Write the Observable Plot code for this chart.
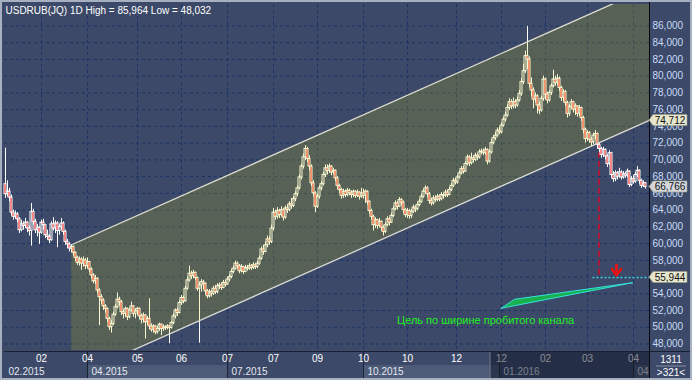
<!DOCTYPE html>
<html><head><meta charset="utf-8">
<script src="https://cdn.jsdelivr.net/npm/d3@7"></script>
<script src="https://cdn.jsdelivr.net/npm/@observablehq/plot@0.6"></script>
<style>
html,body{margin:0;padding:0;background:#3c4968;}
#wrap{position:relative;width:692px;height:380px;overflow:hidden;}
#wrap svg{position:absolute;left:0;top:0;}
#frame{position:absolute;left:0;top:0;width:692px;height:380px;box-sizing:border-box;border:2px solid #a7b0c0;pointer-events:none;}
</style></head><body><div id="wrap"><div id="frame"></div></div>
<script>
// ---------------- data ----------------
const title = "USDRUB(JQ) 1D High = 85,964 Low = 48,032";
const firstOpen = 67.1;
const closes = [
65.9,66.2,65.5,63.7,63.2,63.5,62.9,61.6,62.3,62.1,
62.5,61.8,61.5,63.8,62.6,61.6,61.9,61.3,62.5,62.2,
61.0,60.8,60.4,62.3,61.8,62.4,61.5,62.0,62.4,61.4,
60.2,59.9,59.4,59.6,58.9,58.3,57.7,58.1,57.6,58.0,
57.3,57.8,56.9,56.2,55.5,55.8,54.4,53.6,53.2,52.5,
52.2,51.0,50.0,50.4,51.5,52.4,53.3,53.0,51.8,51.6,
52.2,51.2,52.0,52.5,51.6,51.9,52.2,51.3,50.9,51.4,
50.6,51.0,50.1,49.7,50.1,49.4,49.8,50.3,49.8,50.0,
49.9,50.1,49.9,50.5,51.3,52.0,51.7,52.9,53.5,53.1,
54.6,55.6,56.4,56.1,56.5,55.9,54.6,55.0,55.4,55.2,
54.3,53.7,54.2,54.0,54.6,54.2,54.9,55.0,54.7,55.3,
55.1,55.7,56.0,56.6,57.0,57.6,57.3,56.7,57.2,56.6,
57.1,57.0,57.3,57.1,57.4,57.2,57.6,58.2,59.3,59.0,
59.8,60.5,60.2,61.8,63.7,63.2,63.9,63.4,64.0,63.1,
64.2,64.0,64.7,64.5,65.3,65.9,66.6,67.9,69.2,70.3,
71.3,70.1,69.2,67.2,66.0,64.4,65.6,66.6,67.1,68.2,
69.0,68.7,69.2,68.5,68.7,67.8,66.9,66.4,65.7,66.2,
65.8,66.3,66.0,65.8,66.2,65.7,66.1,65.6,66.0,65.7,
66.2,65.0,63.9,63.2,62.2,62.8,62.1,62.6,61.9,61.4,
62.2,62.9,62.5,63.3,64.1,64.8,64.4,65.2,64.9,64.0,
63.4,63.9,63.3,63.8,64.3,64.1,64.6,65.0,65.6,66.2,
66.6,65.9,65.1,64.8,65.4,65.2,65.6,65.3,65.8,65.7,
66.1,65.8,66.4,66.9,67.5,67.3,67.9,68.4,68.9,68.6,
69.5,70.3,69.6,70.2,70.0,70.5,70.3,70.9,71.0,70.8,
71.2,69.8,70.9,72.0,72.6,72.9,73.5,73.3,74.1,74.8,
75.3,76.2,76.9,76.4,76.9,76.5,77.1,77.9,79.3,80.6,
82.4,82.0,79.1,78.3,77.2,77.6,76.5,75.9,77.3,79.6,
77.8,77.1,78.0,78.8,79.6,79.2,79.7,78.6,77.4,78.1,
76.8,75.5,76.3,76.9,76.0,76.4,75.5,76.2,75.0,73.6,
72.5,73.2,72.4,72.1,72.9,73.1,71.8,71.3,70.6,71.2,
70.4,69.5,70.8,68.2,67.7,68.4,68.0,68.5,67.9,68.3,
68.1,68.6,67.0,67.7,67.4,68.2,68.7,67.5,66.9,67.2,
66.766];
const highs = [
71.4,67.5,66.6,65.8,64.0,63.9,63.7,63.1,62.8,62.6,
63.0,62.6,62.1,64.8,64.1,62.9,62.3,62.0,62.8,62.9,
62.3,61.6,61.0,62.6,63.1,62.7,62.6,62.3,63.0,62.6,
61.6,60.5,60.1,59.9,59.7,59.0,58.5,58.4,58.3,58.4,
58.2,58.3,57.9,57.1,56.4,56.2,55.9,54.6,53.9,53.4,
52.7,52.3,51.2,50.8,51.8,52.7,54.1,53.6,53.2,52.1,
52.4,52.3,52.3,53.0,52.6,52.2,52.4,52.3,51.6,51.7,
51.5,51.3,53.4,50.4,50.3,50.2,50.1,50.5,50.4,50.3,
50.2,50.3,50.2,50.7,51.6,52.2,52.3,53.2,53.8,53.7,
54.9,56.0,57.3,56.7,56.8,56.6,56.0,55.4,55.7,55.6,
55.3,54.5,54.5,54.4,54.9,55.0,55.2,55.3,55.3,55.6,
55.6,56.0,56.3,56.9,57.3,57.9,57.8,57.5,57.5,57.3,
57.4,57.4,57.6,57.5,57.7,57.6,57.9,58.5,59.6,59.8,
60.2,60.9,60.8,62.2,64.2,64.0,64.3,64.1,64.4,64.2,
64.5,64.6,65.0,65.4,65.6,66.2,66.9,68.2,69.5,70.7,
71.7,71.5,70.5,69.4,67.5,66.2,65.9,66.9,67.4,68.5,
69.4,69.4,69.5,69.3,69.0,68.8,68.0,67.1,66.6,66.5,
66.4,66.6,66.5,66.3,66.4,66.3,66.4,66.2,66.6,66.5,
66.4,66.3,65.1,64.1,63.4,63.1,62.9,63.0,62.7,62.1,
62.5,63.2,63.1,63.6,64.4,65.1,65.0,65.5,65.4,65.1,
64.2,64.2,64.1,64.1,64.6,64.5,64.9,65.3,65.9,66.5,
66.9,66.8,66.1,65.4,65.7,65.7,65.9,65.8,66.1,66.0,
66.4,66.4,66.7,67.2,67.8,67.8,68.2,68.7,69.2,69.2,
69.8,70.6,70.5,70.8,70.5,70.8,70.7,71.2,71.3,71.3,
71.5,71.3,71.2,72.4,72.9,73.3,73.8,73.9,74.4,75.1,
75.7,76.6,77.3,77.2,77.4,77.2,77.5,78.3,79.7,81.4,
83.0,85.964,82.3,79.8,78.6,78.0,77.8,76.9,77.6,80.0,
79.8,78.1,78.3,79.1,80.7,80.0,80.2,79.9,78.8,78.4,
78.3,77.0,76.6,77.2,77.0,76.7,76.5,76.5,76.3,75.2,
73.8,73.5,73.4,72.7,73.2,73.5,73.2,72.0,71.5,71.5,
71.3,70.6,71.1,70.9,68.6,68.7,68.6,69.0,68.7,68.6,
68.5,68.9,68.7,68.0,68.1,68.5,69.2,68.8,67.7,67.5,
67.3];
const lows = [
65.4,65.6,65.0,63.3,62.8,62.9,62.5,61.2,61.4,61.6,
61.8,61.3,60.9,59.7,62.2,61.2,60.8,59.9,61.1,61.6,
60.6,60.4,60.0,60.3,61.5,61.2,59.5,61.0,61.6,61.0,
59.8,59.4,59.0,58.9,58.5,57.9,57.4,57.3,56.8,57.2,
56.9,57.0,56.5,55.8,55.2,55.1,54.0,50.2,52.7,52.0,
51.7,50.6,49.6,49.3,50.2,51.3,52.2,52.5,51.4,51.0,
51.2,50.8,51.0,51.8,51.2,51.0,51.4,50.9,50.4,50.5,
48.6,50.2,49.7,49.4,49.3,49.1,49.2,49.5,49.0,49.5,
49.6,49.7,48.032,49.8,50.3,51.0,51.3,51.6,52.6,52.8,
53.0,54.4,55.4,55.7,55.8,55.6,54.3,48.1,54.2,54.5,
53.9,53.4,53.5,53.6,53.8,53.9,54.0,54.5,54.4,54.6,
54.8,55.0,55.4,55.8,56.4,56.8,56.9,56.4,56.5,56.3,
56.5,56.7,56.8,56.8,56.9,56.9,57.0,57.4,58.0,58.6,
58.9,59.5,59.8,60.0,61.5,62.8,62.9,63.0,63.2,62.7,
62.9,63.6,63.8,64.1,64.3,65.0,65.6,66.4,67.6,68.9,
69.9,69.7,68.7,66.8,65.6,63.7,64.2,65.3,66.3,66.9,
67.9,68.2,68.4,68.1,68.2,67.4,66.5,66.0,65.3,65.4,
65.5,65.6,65.7,65.4,65.5,65.4,65.5,65.2,65.4,65.3,
64.8,64.6,63.5,62.8,61.5,61.8,61.7,61.9,61.5,60.9,
61.2,62.0,62.1,62.4,63.1,63.9,64.0,64.3,64.5,63.6,
63.1,63.0,62.9,63.0,63.6,63.7,63.9,64.4,64.8,65.4,
65.9,65.5,64.7,64.5,64.6,64.9,65.0,65.0,65.1,65.3,
65.5,65.5,65.7,66.2,66.7,67.0,67.1,67.7,68.2,68.3,
68.5,69.3,69.2,69.4,69.6,69.8,69.9,70.1,70.6,70.5,
70.6,69.4,69.6,70.7,71.8,72.3,72.7,73.0,73.1,73.9,
74.5,75.1,75.9,76.0,76.1,76.1,76.3,76.9,77.6,79.0,
80.3,80.8,78.6,77.5,76.1,76.8,75.5,75.4,75.7,77.0,
77.2,76.7,76.9,77.7,78.6,78.8,78.9,78.2,77.0,76.9,
76.4,75.0,75.2,76.0,75.6,75.3,75.1,75.2,74.6,73.1,
72.0,72.2,72.0,71.6,71.8,72.4,71.3,70.9,70.2,70.3,
70.0,69.1,69.3,67.8,67.3,67.4,67.6,67.8,67.6,67.7,
67.8,67.9,66.7,66.8,67.1,67.2,67.9,67.1,66.6,66.7,
66.5];

// price axis ticks
const yTicks = [48,50,52,54,56,58,60,62,64,66,68,70,72,74,76,78,80,82,84,86];
const yTickLabels = ["48,000","50,000","52,000","54,000","56,000","58,000","60,000","62,000","64,000","66,000","68,000","70,000","72,000","74,000","76,000","78,000","80,000","82,000","84,000","86,000"];
// time axis (bar index positions)
const xTickBars = [18,41,66,88,111,134,156,179,201,225.5,248,270,291,314];
const xTickLabels = ["02","04","05","06","07","07","09","10","10","12","12","02","03","04"];
const quarterBars = [-0.5,41,111,179,247,314];
const quarterLabels = ["02.2015","04.2015","07.2015","10.2015","01.2016","04."];

// channel
const channelBars = [33.1, 322];
const channelUpper = [59.86, 90.6];
const channelLower = [44.0, 74.74];
// target annotation
const breakBar = 296.75, breakPrice = 72.0;
const targetPrice = 55.944;
const targetLineBars = [293.75, 322];
const arrowBar = 305.5, arrowTop = 57.5, arrowTip = 56.2;
const wedgeBars = [248.1, 254.75, 313.9];
const wedgeLow = [52.21, 52.52, 55.27];
const wedgeHigh = [52.21, 53.28, 55.27];
const noteText = "Цель по ширине пробитого канала";
const noteBar = 195.75, notePrice = 50.81;
// price tags on the axis
const tagValues = [74.712, 66.766, 55.944];
const tagLabels = ["74,712", "66,766", "55,944"];
const tagFills = ["#e6e6cc", "#d2d6da", "#e6e6cc"];
const barsTotal = "1311", barsShown = ">321<";

// ---------------- layout / style ----------------
const W = 692, H = 380;
const mL = 4, mR = 43, mT = 4, mB = 30;
const xDomain = [-0.5, 322];
const yDomain = [47.223, 88.569];
const bg = "#3c4968";
const gridC = "#1b3465";
const red = "#f01010";
const xs = d3.scaleLinear(xDomain, [mL, W - mR]);
const ys = d3.scaleLinear(yDomain, [H - mB, mT]);
const px = p => xs.invert(p), py = p => ys.invert(p);

const candles = closes.map((c, i) => {
  const o = i === 0 ? firstOpen : closes[i - 1];
  return {i, open: o, close: c, high: Math.max(highs[i], o, c), low: Math.min(lows[i], o, c)};
});
const up = candles.filter(d => d.close >= d.open);
const down = candles.filter(d => d.close < d.open);
const channel = channelBars.map((x, k) => ({x, hi: channelUpper[k], lo: channelLower[k]}));
const wedge = wedgeBars.map((x, k) => ({x, lo: wedgeLow[k], hi: wedgeHigh[k]}));
const yLab = new Map(yTicks.map((t, k) => [t, yTickLabels[k]]));
const xLab = new Map(xTickBars.map((t, k) => [t, xTickLabels[k]]));
const quarters = quarterBars.map((x, k) => ({x, x2: k < quarterBars.length - 1 ? quarterBars[k + 1] : xDomain[1], label: quarterLabels[k], light: k % 2 === 1}));

const tagMarks = tagValues.map((v, k) => {
  const pts = [
    {x: px(649), a: v, b: v},
    {x: px(653), a: v - 0.66, b: v + 0.66},
    {x: px(687), a: v - 0.66, b: v + 0.66}
  ];
  return [
    Plot.areaY(pts, {x: "x", y1: "a", y2: "b", fill: tagFills[k], stroke: "#9a9a88", strokeWidth: 0.6}),
    Plot.text([tagLabels[k]], {x: px(669.5), y: v, fill: "#111", fontSize: 10, textAnchor: "middle"})
  ];
});

const stripTop = py(351), rowSplit = py(365), stripBot = py(378);

const chart = Plot.plot({
  width: W, height: H,
  marginLeft: mL, marginRight: mR, marginTop: mT, marginBottom: mB,
  x: {type: "linear", domain: xDomain, axis: null},
  y: {type: "linear", domain: yDomain, axis: null},
  style: {background: bg, fontFamily: "'Liberation Sans', Arial, sans-serif", fontSize: "10px", color: "white", overflow: "visible"},
  marks: [
    Plot.gridY(yTicks, {stroke: gridC, strokeOpacity: 1, strokeDasharray: "3,3"}),
    Plot.gridX(xTickBars, {stroke: gridC, strokeOpacity: 1, strokeDasharray: "3,3"}),
    // breakout projection line (under candles)
    Plot.ruleX([breakBar], {y1: breakPrice, y2: targetPrice, stroke: "#b0163a", strokeWidth: 2, strokeDasharray: "6,3"}),
    // candles
    Plot.ruleX(candles, {x: "i", y1: "low", y2: "high", stroke: "white", strokeWidth: 1}),
    Plot.rect(up, {x1: d => d.i - 0.5, x2: d => d.i + 0.5, y1: "open", y2: "close", fill: bg, stroke: "white", strokeWidth: 1, inset: 0}),
    Plot.rect(down, {x1: d => d.i - 0.5, x2: d => d.i + 0.5, y1: "open", y2: "close", fill: red, stroke: "white", strokeWidth: 1, inset: 0}),
    // channel overlay
    Plot.areaY(channel, {x: "x", y1: "lo", y2: "hi", fill: "#d8d000", fillOpacity: 0.18, clip: true}),
    Plot.line(channel, {x: "x", y: "hi", stroke: "#dcdcd2", strokeWidth: 1.3, clip: true}),
    Plot.line(channel, {x: "x", y: "lo", stroke: "#dcdcd2", strokeWidth: 1.3, clip: true}),
    // target annotation
    Plot.ruleY([targetPrice], {x1: targetLineBars[0], x2: targetLineBars[1], stroke: "#3fd6e0", strokeWidth: 1.5, strokeDasharray: "2,2"}),
    Plot.ruleX([arrowBar], {y1: arrowTop, y2: arrowTip + 0.3, stroke: red, strokeWidth: 2.5}),
    Plot.line([{x: arrowBar - 2.3, y: arrowTip + 0.75}, {x: arrowBar, y: arrowTip}, {x: arrowBar + 2.3, y: arrowTip + 0.75}], {x: "x", y: "y", stroke: red, strokeWidth: 2.5}),
    Plot.areaY(wedge, {x: "x", y1: "lo", y2: "hi", fill: "#18b04c", stroke: "#36e0e0", strokeWidth: 1}),
    Plot.text([noteText], {x: noteBar, y: notePrice, textAnchor: "start", fill: "#1ff01f", fontSize: 11}),
    // title
    Plot.text([title], {frameAnchor: "top-left", dx: 1, dy: 2, textAnchor: "start", lineAnchor: "top", fill: "white", fontSize: 10}),
    // bottom time strip
    Plot.rect(quarters.filter(q => q.light), {x1: "x", x2: "x2", y1: rowSplit, y2: stripBot, fill: "#4d5b79"}),
    Plot.ruleX(quarters.slice(1), {x: "x", y1: stripTop, y2: stripBot, stroke: "#1a2336"}),
    Plot.text(quarters, {x: "x", y: py(371.5), text: "label", dx: 4, textAnchor: "start", fill: "#e4e8f0", fontSize: 10}),
    Plot.axisX({ticks: xTickBars, tickFormat: d => xLab.get(d), tickSize: 0, tickPadding: 4, fill: "white", fontSize: 10, label: null}),
    Plot.rect([0], {x1: px(489.5), x2: xDomain[1], y1: stripTop, y2: stripBot, fill: "#0b1324", fillOpacity: 0.5}),
    Plot.ruleX([px(489.5)], {y1: stripTop, y2: stripBot, stroke: "#7c8496"}),
    Plot.ruleY([stripTop], {x1: xDomain[0], x2: px(692), stroke: "#182032"}),
    // right price strip
    Plot.rect([0], {x1: px(649), x2: px(692), y1: stripTop, y2: stripBot, fill: bg}),
    Plot.ruleY([stripTop], {x1: px(649), x2: px(692), stroke: "#182032"}),
    Plot.ruleX([px(649)], {y1: py(2), y2: py(380), stroke: "#05080f"}),
    Plot.axisY({anchor: "right", ticks: yTicks, tickFormat: d => yLab.get(d), tickSize: 0, tickPadding: 3, fill: "#c8dcf8", fontSize: 10, label: null}),
    tagMarks,
    Plot.text([barsTotal], {x: px(670.5), y: py(359), fill: "white", fontSize: 10, textAnchor: "middle"}),
    Plot.ruleY([py(365.5)], {x1: px(656), x2: px(686), stroke: "#8a92a4"}),
    Plot.text([barsShown], {x: px(670.5), y: py(372), fill: "white", fontSize: 10, textAnchor: "middle"})
  ]
});
document.getElementById("wrap").insertBefore(chart, document.getElementById("frame"));
</script>
</body></html>
